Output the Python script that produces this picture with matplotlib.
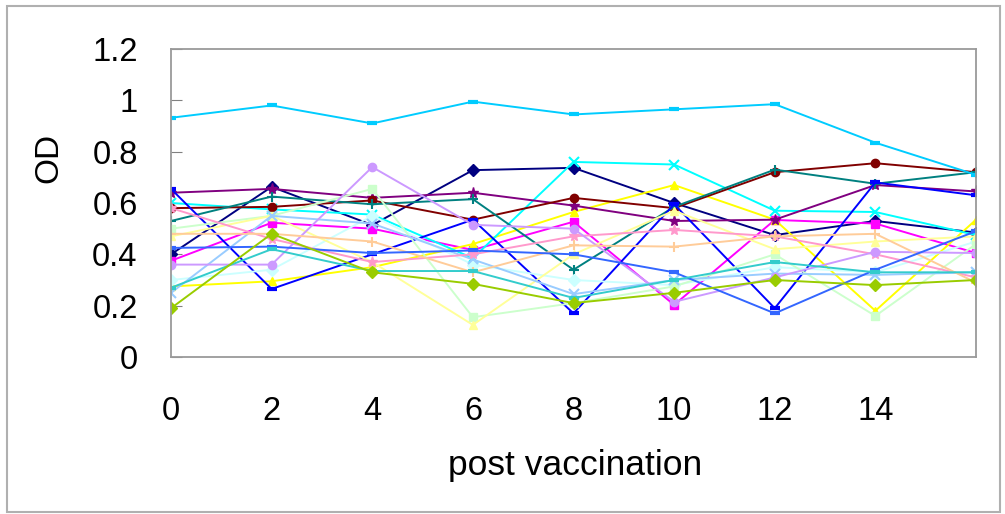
import matplotlib
matplotlib.use("Agg")
import matplotlib.pyplot as plt
from matplotlib.patches import Rectangle

plt.rcParams['font.family'] = ['Liberation Sans', 'DejaVu Sans']

weeks = [0, 2, 4, 6, 8, 10, 12, 14, 16]
xtick_labels = ["0", "2", "4", "6", "8", "10", "12", "14"]
ytick_values = [0, 0.2, 0.4, 0.6, 0.8, 1.0, 1.2]
ytick_labels = ["0", "0.2", "0.4", "0.6", "0.8", "1", "1.2"]

# one list per animal
navy = [0.40, 0.663, 0.514, 0.728, 0.737, 0.60, 0.475, 0.53, 0.485]
magenta = [0.375, 0.523, 0.50, 0.417, 0.527, 0.203, 0.534, 0.52, 0.405]
yellow = [0.275, 0.295, 0.35, 0.44, 0.565, 0.67, 0.535, 0.18, 0.535]
cyan = [0.60, 0.575, 0.555, 0.385, 0.76, 0.75, 0.57, 0.565, 0.475]
purple = [0.64, 0.655, 0.62, 0.64, 0.59, 0.53, 0.535, 0.67, 0.645]
maroon = [0.58, 0.585, 0.61, 0.535, 0.62, 0.58, 0.72, 0.755, 0.72]
teal = [0.53, 0.625, 0.595, 0.615, 0.34, 0.585, 0.73, 0.675, 0.72]
blue = [0.655, 0.265, 0.40, 0.535, 0.17, 0.595, 0.19, 0.68, 0.63]
skyblue = [0.932, 0.98, 0.91, 0.995, 0.945, 0.965, 0.985, 0.835, 0.71]
turquoise = [0.30, 0.34, 0.55, 0.36, 0.30, 0.28, 0.35, 0.33, 0.45]
lightgreen = [0.50, 0.55, 0.655, 0.155, 0.21, 0.275, 0.40, 0.16, 0.44]
lightyellow = [0.47, 0.55, 0.37, 0.125, 0.40, 0.57, 0.42, 0.45, 0.47]
paleblue = [0.25, 0.55, 0.52, 0.38, 0.245, 0.30, 0.325, 0.32, 0.33]
rose = [0.58, 0.46, 0.37, 0.40, 0.47, 0.495, 0.47, 0.40, 0.31]
lavender = [0.36, 0.36, 0.74, 0.515, 0.50, 0.215, 0.31, 0.41, 0.405]
tan = [0.48, 0.48, 0.45, 0.33, 0.435, 0.43, 0.47, 0.48, 0.29]
blue2 = [0.425, 0.43, 0.405, 0.415, 0.40, 0.33, 0.17, 0.34, 0.49]
aqua = [0.27, 0.42, 0.335, 0.335, 0.23, 0.30, 0.37, 0.33, 0.33]
lime = [0.19, 0.48, 0.33, 0.285, 0.21, 0.25, 0.30, 0.28, 0.30]

series = [
    (navy, "#000080", "D"),
    (magenta, "#FF00FF", "s"),
    (yellow, "#FFFF00", "^"),
    (cyan, "#00FFFF", "x"),
    (purple, "#800080", "*"),
    (maroon, "#800000", "o"),
    (teal, "#008080", "+"),
    (blue, "#0000FF", "_"),
    (skyblue, "#00CCFF", "_"),
    (turquoise, "#CCFFFF", "D"),
    (lightgreen, "#CCFFCC", "s"),
    (lightyellow, "#FFFF99", "^"),
    (paleblue, "#99CCFF", "x"),
    (rose, "#FF99CC", "*"),
    (lavender, "#CC99FF", "o"),
    (tan, "#FFCC99", "+"),
    (blue2, "#3366FF", "_"),
    (aqua, "#33CCCC", "_"),
    (lime, "#99CC00", "D"),
]

fig = plt.figure(figsize=(10.05, 5.14), dpi=100)
ax = fig.add_axes([171 / 1005, 1 - 357 / 514, (976 - 171) / 1005, (357 - 49) / 514])

for vals, col, mk in series:
    if mk in ("_", "x", "+"):
        ax.plot(weeks, vals, color=col, lw=1.4, marker=mk, ms=7, mew=3 if mk == "_" else 1.5)
    else:
        ax.plot(weeks, vals, color=col, lw=1.4, marker=mk, ms=6 if mk != "*" else 8, mec=col)

ax.set_xlim(0, 16)
ax.set_ylim(0, 1.2)
ax.set_xticks(weeks[:-1])
ax.set_xticklabels(xtick_labels)
ax.set_yticks(ytick_values)
ax.set_yticklabels(ytick_labels)
ax.tick_params(axis="x", length=0, pad=28, labelsize=23.5)
ax.tick_params(axis="y", direction="in", length=8, color="#808080", pad=24, labelsize=23.5)
for sp in ax.spines.values():
    sp.set_color("#9a9a9a")
    sp.set_linewidth(1.3)

fig.text(575 / 1005, 1 - 465 / 514, "post vaccination", ha="center", va="center", fontsize=25.5)
fig.text(49 / 1005, 1 - 158 / 514, "OD", ha="center", va="center", rotation=90, fontsize=24)

fig.patches.append(Rectangle((7 / 1005, 2 / 514), 993 / 1005, 506 / 514, transform=fig.transFigure,
                             fill=False, edgecolor="#b0b0b0", lw=1.5))

fig.savefig("out.png", dpi=100)
